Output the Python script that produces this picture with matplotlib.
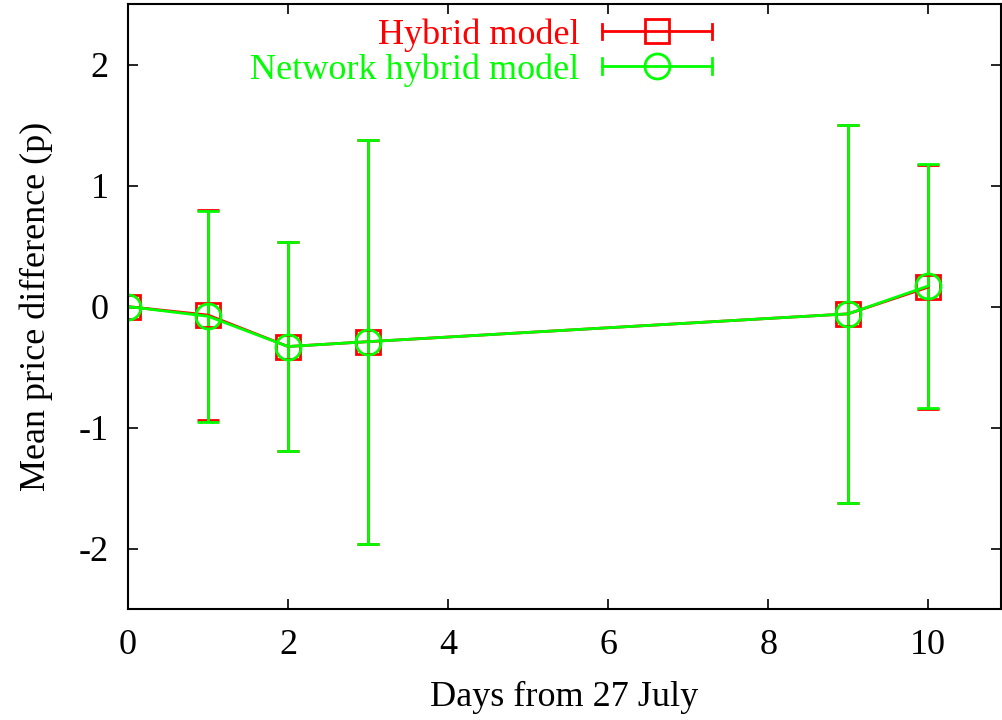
import numpy as np
import matplotlib.pyplot as plt
from matplotlib.legend_handler import HandlerBase
from matplotlib.lines import Line2D

plt.rcParams['font.family'] = ['Liberation Serif', 'DejaVu Serif']
plt.rcParams['axes.unicode_minus'] = False

days = [0, 1, 2, 3, 9, 10]
hybrid_mean = [0.0, -0.07, -0.33, -0.29, -0.06, 0.16]
hybrid_err = [0.0, 0.87, 0.86, 1.67, 1.56, 1.01]
network_mean = [0.0, -0.08, -0.33, -0.29, -0.06, 0.17]
network_err = [0.0, 0.87, 0.86, 1.67, 1.56, 1.01]


class CapLineHandler(HandlerBase):
    # gnuplot-like key sample: horizontal line with end caps and a marker
    def create_artists(self, legend, orig, xd, yd, width, height, fontsize, trans):
        c = orig.get_color()
        y = height / 2 - yd
        x0, x1 = -xd, width - xd
        cap = height * 0.3
        arts = [
            Line2D([x0, x1], [y, y], color=c, lw=2),
            Line2D([x0, x0], [y - cap, y + cap], color=c, lw=2),
            Line2D([x1, x1], [y - cap, y + cap], color=c, lw=2),
            Line2D([(x0 + x1) / 2], [y], marker=orig.get_marker(), ms=orig.get_markersize(),
                   mfc='none', mec=c, mew=2, ls='none'),
        ]
        for a in arts:
            a.set_transform(trans)
        return arts


fig = plt.figure(figsize=(10.02, 7.2), dpi=100)
ax = fig.add_axes([0.1277, 0.154, 0.8713, 0.8404])

ax.errorbar(days, hybrid_mean, yerr=hybrid_err, color='#ff0000', lw=2, marker='s', ms=17,
            mfc='none', mew=2, capsize=8, capthick=2, elinewidth=2)
ax.errorbar(days, network_mean, yerr=network_err, color='#00ff00', lw=2, marker='o', ms=18,
            mfc='none', mew=2, capsize=8, capthick=2, elinewidth=2)

h1 = Line2D([], [], color='#ff0000', marker='s', ms=17)
h2 = Line2D([], [], color='#00ff00', marker='o', ms=18)
leg = ax.legend([h1, h2], ['Hybrid model', 'Network hybrid model'],
                handler_map={Line2D: CapLineHandler()}, loc='upper right',
                bbox_to_anchor=(0.686, 1.0), markerfirst=False, frameon=False,
                fontsize=26, handlelength=3.05, handletextpad=0.64, labelspacing=0.03,
                borderaxespad=0.0)
for t, c in zip(leg.get_texts(), ['#ff0000', '#00ff00']):
    t.set_color(c)

ax.set_xlim(0, 10.91)
ax.set_ylim(-2.5, 2.5)
ax.set_xticks([0, 2, 4, 6, 8, 10])
ax.set_yticks([-2, -1, 0, 1, 2])
ax.tick_params(direction='in', length=7, width=1.2, top=True, right=True,
               labelsize=26, pad=14)
for s in ax.spines.values():
    s.set_linewidth(1.5)

ax.set_xlabel('Days from 27 July', fontsize=26, labelpad=14)
ax.set_ylabel('Mean price difference (p)', fontsize=26, labelpad=18)

fig.savefig('out.png', dpi=100)
